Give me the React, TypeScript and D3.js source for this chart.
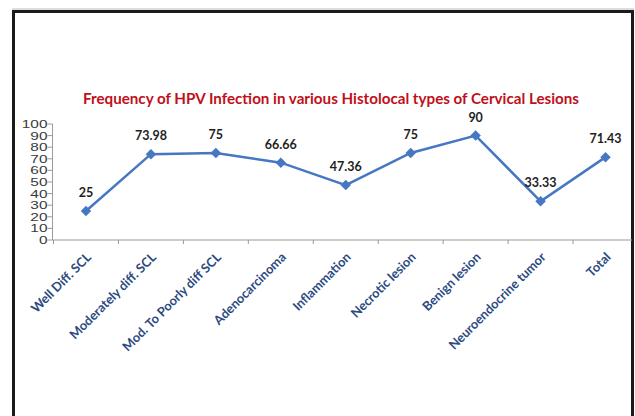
import React from "react";
import * as d3 from "d3";

const categories = [
  "Well Diff. SCL",
  "Moderately diff. SCL",
  "Mod. To Poorly diff SCL",
  "Adenocarcinoma",
  "Inflammation",
  "Necrotic lesion",
  "Benign lesion",
  "Neuroendocrine tumor",
  "Total",
];
const values = [25, 73.98, 75, 66.66, 47.36, 75, 90, 33.33, 71.43];
const valueLabels = ["25", "73.98", "75", "66.66", "47.36", "75", "90", "33.33", "71.43"];
const yTicks = [0, 10, 20, 30, 40, 50, 60, 70, 80, 90, 100];
const title = "Frequency of HPV Infection in various Histolocal types of Cervical Lesions";

const W = 635;
const H = 416;
const x0 = 53.5;
const x1 = 638;
const yBottom = 240;
const yTop = 124;

export default function App() {
  const x = d3.scaleBand<string>().domain(categories).range([x0, x1]).padding(0);
  const y = d3.scaleLinear().domain([0, 100]).range([yBottom, yTop]);
  const cx = (c: string) => (x(c) as number) + x.bandwidth() / 2;
  const line = d3
    .line<number>()
    .x((_, i) => cx(categories[i]))
    .y((d) => y(d));
  const diamond = d3.symbol().type(d3.symbolDiamond2).size(70)() as string;
  const tickXs = [...categories.map((c) => x(c) as number), x1];

  return (
    <svg
      width={W}
      height={H}
      style={{ position: "absolute", left: 0, top: 0, background: "#fff" }}
    >
      <defs>
        <clipPath id="frame">
          <rect x={14} y={12} width={618} height={H} />
        </clipPath>
      </defs>
      <line x1={12} x2={634} y1={9} y2={9} stroke="#bbb" strokeWidth={1} />
      <path
        d={`M13.5,${H} L13.5,11.5 L632.5,11.5 L632.5,${H}`}
        fill="none"
        stroke="#1a1a1a"
        strokeWidth={3}
      />
      <g clipPath="url(#frame)">
        <text
          x={83}
          y={104}
          textLength={496}
          lengthAdjust="spacingAndGlyphs"
          fill="#c0101a"
          fontFamily="Lato, 'Open Sans', sans-serif"
          fontWeight="bold"
          fontSize={14.5}
        >
          {title}
        </text>
        {/* y axis */}
        <line x1={x0 - 1} x2={x0 - 1} y1={yTop} y2={yBottom} stroke="#9a9a9a" strokeWidth={1} />
        {yTicks.map((t) => (
          <g key={t}>
            <line x1={x0 - 6} x2={x0 - 1} y1={y(t)} y2={y(t)} stroke="#9a9a9a" />
            <text
              transform={`translate(${x0 - 6},${y(t)}) scale(1.4,1)`}
              dy="0.36em"
              textAnchor="end"
              fill="#3a3a3a"
              fontFamily="'Liberation Sans', sans-serif"
              fontSize={11}
            >
              {t}
            </text>
          </g>
        ))}
        {/* x axis */}
        <line x1={x0 - 1} x2={x1} y1={yBottom} y2={yBottom} stroke="#9a9a9a" strokeWidth={1.2} />
        {tickXs.map((tx, i) => (
          <line key={i} x1={tx} x2={tx} y1={yBottom} y2={yBottom + 4} stroke="#9a9a9a" />
        ))}
        {categories.map((c) => (
          <text
            key={c}
            transform={`translate(${cx(c) + 1},${yBottom + 13}) rotate(-45)`}
            textAnchor="end"
            dy="0.55em"
            fill="#2b4a80"
            fontFamily="Lato, 'Open Sans', sans-serif"
            fontWeight="bold"
            fontSize={12.8}
          >
            {c}
          </text>
        ))}
        <path d={line(values) as string} fill="none" stroke="#4677c2" strokeWidth={2.5} />
        {values.map((v, i) => (
          <path
            key={i}
            d={diamond}
            transform={`translate(${cx(categories[i])},${y(v)})`}
            fill="#4677c2"
          />
        ))}
        {values.map((v, i) => (
          <text
            key={i}
            x={cx(categories[i])}
            y={y(v) - 14}
            textAnchor="middle"
            fill="#1e1e1e"
            fontFamily="Lato, 'Open Sans', sans-serif"
            fontWeight="bold"
            fontSize={12.5}
          >
            {valueLabels[i]}
          </text>
        ))}
      </g>
    </svg>
  );
}
